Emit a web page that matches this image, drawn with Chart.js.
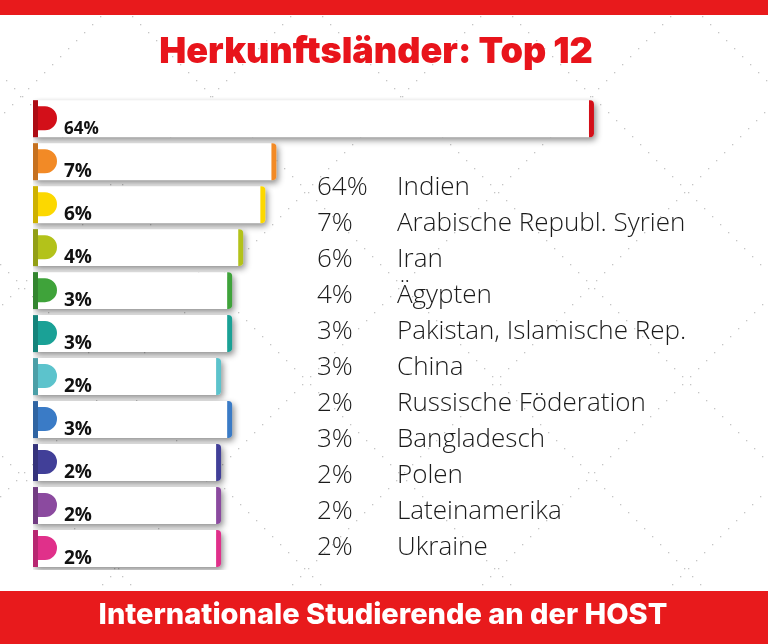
<!DOCTYPE html>
<html lang="de">
<head>
<meta charset="utf-8">
<title>Herkunftsländer: Top 12</title>
<script src="https://cdn.jsdelivr.net/npm/chart.js@4.4.1/dist/chart.umd.min.js"></script>
<style>
  html, body { margin: 0; padding: 0; background: #fff; }
  #wrap { position: relative; width: 768px; height: 644px; }
</style>
</head>
<body>
<div id="wrap"><canvas id="bar-chart" width="768" height="644"></canvas></div>
<script>
        var countries = [
            'Indien', 'Arabische Republ. Syrien', 'Iran', 'Ägypten',
            'Pakistan, Islamische Rep.', 'China', 'Russische Föderation',
            'Bangladesch', 'Polen', 'Lateinamerika', 'Ukraine'
        ];
        var shares = [64, 7, 6, 4, 3, 3, 2, 3, 2, 2, 2];
        var tabColors = [
            '#d30f19', '#f28a26', '#fcd800', '#b3c21a', '#3fa33a', '#1aa196',
            '#5cc3cc', '#3a7bc6', '#413f98', '#8b4a9f', '#e0308a'
        ];

        // the original cuts the Indien bar short, the axis is broken above this
        var axisBreak = 35.7;

        var ctx = document.getElementById('bar-chart').getContext('2d');

        var decorations = {
            id: 'decorations',
            beforeDraw: function (chart) {
                var c = chart.ctx, w = chart.width, h = chart.height;
                c.save();
                c.fillStyle = '#fff';
                c.fillRect(0, 0, w, h);
                // faint dotted diamond lattice in the background
                c.fillStyle = 'rgba(110,110,110,0.4)';
                for (var k = -h; k < w + h; k += 190) {
                    for (var t = 0; t < h; t += 8) {
                        c.fillRect(k + t, t, 1.3, 1.3);
                        c.fillRect(k - t, t, 1.3, 1.3);
                    }
                }
                c.fillStyle = '#e81a1c';
                c.fillRect(0, 0, w, 15);
                c.fillRect(0, 591, w, h - 591);
                c.restore();
            },
            beforeDatasetsDraw: function (chart) {
                var c = chart.ctx;
                c.save();
                c.shadowColor = 'rgba(0,0,0,0.45)';
                c.shadowBlur = 6;
                c.shadowOffsetX = 2;
                c.shadowOffsetY = 3;
            },
            afterDatasetsDraw: function (chart) {
                var c = chart.ctx;
                c.restore();
                var bars = chart.getDatasetMeta(0).data;
                bars.forEach(function (bar, i) {
                    var hgt = bar.height, top = bar.y - hgt / 2, left = bar.base, right = bar.x;
                    var col = tabColors[i];
                    c.save();
                    // coloured end cap
                    c.fillStyle = col;
                    c.beginPath();
                    c.roundRect(right - 5, top, 5, hgt, [0, 4, 4, 0]);
                    c.fill();
                    // tab on the left
                    c.beginPath();
                    c.rect(left, top + 6, 12, 24);
                    c.arc(left + 12, top + 18, 12, -Math.PI / 2, Math.PI / 2);
                    c.fill();
                    c.fillRect(left, top, 5, hgt);
                    c.fillStyle = 'rgba(0,0,0,0.18)';
                    c.fillRect(left, top, 5, hgt);
                    // label
                    c.fillStyle = '#111';
                    c.font = 'bold ' + (i === 0 ? 17 : 19) + 'px "Open Sans"';
                    c.textBaseline = 'alphabetic';
                    c.fillText(shares[i] + '%', left + 31, top + hgt - 3);
                    c.restore();
                });

                // list on the right
                c.save();
                c.fillStyle = '#1b1b1b';
                c.font = '300 26px "Open Sans"';
                countries.forEach(function (name, i) {
                    var y = 195 + i * 36;
                    c.fillText(shares[i] + '%', 317, y);
                    c.fillText(name, 397, y);
                });
                c.restore();
            },
            afterDraw: function (chart) {
                var c = chart.ctx;
                c.save();
                c.fillStyle = '#fff';
                c.font = '800 29px Inter';
                c.textAlign = 'center';
                c.textBaseline = 'middle';
                c.fillText('Internationale Studierende an der HOST', 383, 615);
                c.restore();
            }
        };

        var config = {
            type: 'bar',
            data: {
                labels: countries,
                datasets: [{
                    data: shares.map(function (v) { return Math.min(v, axisBreak); }),
                    base: -15,
                    backgroundColor: '#ffffff',
                    borderRadius: 4,
                    borderSkipped: false,
                    barPercentage: 0.86,
                    categoryPercentage: 1
                }]
            },
            options: {
                indexAxis: 'y',
                responsive: false,
                animation: false,
                layout: {
                    padding: { left: 33, right: 49, top: 0, bottom: 74 }
                },
                scales: {
                    x: { display: false, min: -15, max: 47 },
                    y: { display: false }
                },
                plugins: {
                    legend: { display: false },
                    tooltip: { enabled: false },
                    title: {
                        display: true,
                        text: 'Herkunftsländer: Top 12',
                        color: '#e8141b',
                        font: { family: 'Inter', weight: '900', size: 36 },
                        padding: { top: 31, bottom: 23 }
                    }
                }
            },
            plugins: [decorations]
        };
        new Chart(ctx, config);
</script>
</body>
</html>
